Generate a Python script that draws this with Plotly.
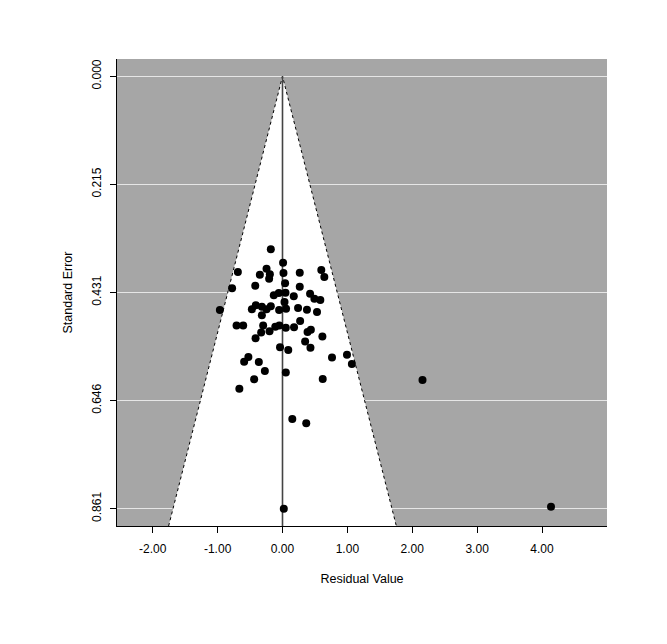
import plotly.graph_objects as go

# Residual values (x) and their standard errors (y)
residual = [-0.18, 0.009, -0.688, -0.246, -0.349, -0.195, -0.206, 0.015, 0.266, 0.598,
            0.645, 0.040, -0.420, 0.266, -0.777, -0.134, -0.057, 0.046, 0.174, 0.425,
            0.492, 0.583, 0.031, -0.965, -0.472, -0.411, -0.318, -0.246, -0.180, -0.052,
            0.055, -0.318, 0.240, 0.377, 0.532, 0.272, -0.708, -0.606, -0.298, -0.111,
            -0.049, 0.051, 0.178, -0.329, -0.200, 0.386, 0.437, 0.615, -0.415, 0.349,
            -0.038, 0.089, 0.431, -0.526, -0.591, -0.365, 0.763, 0.994, 1.069, -0.272,
            0.051, -0.437, 0.620, -0.665, 0.151, 0.366, 0.020, 2.158, 4.139]
std_error = [0.3446, 0.3712, 0.3897, 0.3832, 0.3951, 0.3943, 0.4031, 0.3917, 0.3911, 0.3858,
             0.3997, 0.4122, 0.4170, 0.4190, 0.4222, 0.4361, 0.4315, 0.4309, 0.4381, 0.4329,
             0.4428, 0.4454, 0.4494, 0.4653, 0.4639, 0.4560, 0.4587, 0.4639, 0.4580, 0.4653,
             0.4627, 0.4758, 0.4613, 0.4647, 0.4693, 0.4872, 0.4961, 0.4961, 0.4961, 0.4985,
             0.4961, 0.5005, 0.4995, 0.5100, 0.5078, 0.5090, 0.5045, 0.5180, 0.5216, 0.5279,
             0.5395, 0.5448, 0.5405, 0.5588, 0.5683, 0.5691, 0.5598, 0.5544, 0.5731, 0.5866,
             0.5896, 0.6031, 0.6025, 0.6220, 0.6826, 0.6906, 0.861, 0.6045, 0.857]

x_ticks = [-2, -1, 0, 1, 2, 3, 4]
x_tick_labels = ["-2.00", "-1.00", "0.00", "1.00", "2.00", "3.00", "4.00"]
y_ticks = [0.0, 0.21525, 0.4305, 0.64575, 0.861]
y_tick_labels = ["0.000", "0.215", "0.431", "0.646", "0.861"]

x_range = [-2.551, 5.002]
y_range = [0.8954, -0.0344]
z_crit = 1.96
se_bottom = y_range[0]

FONT = "Liberation Sans, Arial, Helvetica, sans-serif"

fig = go.Figure()

# white funnel region
fig.add_trace(go.Scatter(
    x=[-z_crit * se_bottom, 0, z_crit * se_bottom, -z_crit * se_bottom],
    y=[se_bottom, 0, se_bottom, se_bottom],
    mode="none", fill="toself", fillcolor="white", hoverinfo="skip", showlegend=False))

# dotted funnel edges
fig.add_trace(go.Scatter(
    x=[-z_crit * se_bottom, 0, z_crit * se_bottom],
    y=[se_bottom, 0, se_bottom],
    mode="lines", line=dict(color="black", width=1, dash="dot"),
    hoverinfo="skip", showlegend=False))

# reference line at 0
fig.add_trace(go.Scatter(
    x=[0, 0], y=[0, se_bottom], mode="lines",
    line=dict(color="#444444", width=1.6), hoverinfo="skip", showlegend=False))

# studies
fig.add_trace(go.Scatter(
    x=residual, y=std_error, mode="markers",
    marker=dict(color="black", size=8), showlegend=False))

fig.update_layout(
    width=667, height=644,
    margin=dict(l=109, r=68, t=51, b=126),
    paper_bgcolor="white", plot_bgcolor="#A6A6A6",
    font=dict(family=FONT, size=12, color="black"),
)
fig.update_xaxes(
    range=x_range, tickvals=x_ticks, ticktext=x_tick_labels,
    showgrid=False, zeroline=False, showline=True, linecolor="black", linewidth=1.2,
    ticks="outside", ticklen=6, tickcolor="black", tickwidth=1,
    ticklabelstandoff=5, automargin=False,
    title=dict(text="Residual Value", standoff=19, font=dict(size=12.5)),
    tickfont=dict(size=12))
fig.update_yaxes(
    range=y_range, tickvals=y_ticks, ticktext=y_tick_labels,
    showgrid=True, gridcolor="#E6E6E6", gridwidth=1.2,
    zeroline=False, showline=True, linecolor="black", linewidth=1.2,
    ticks="outside", ticklen=6, tickcolor="black", tickwidth=1, tickangle=-90,
    ticklabelstandoff=4, automargin=False,
    title=dict(text="Standard Error", standoff=14, font=dict(size=12.5)),
    tickfont=dict(size=12))

fig.write_html("out.html")
